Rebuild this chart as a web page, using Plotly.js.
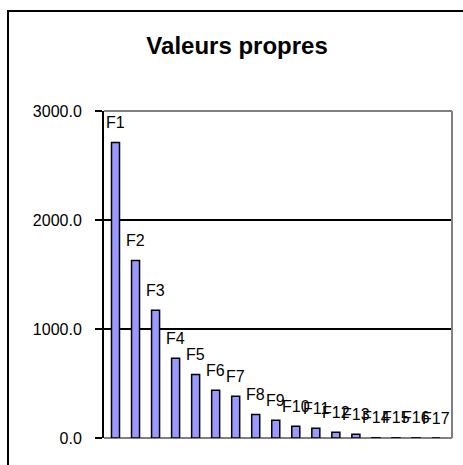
<!DOCTYPE html>
<html>
<head>
<meta charset="utf-8">
<script src="https://cdn.plot.ly/plotly-3.0.1.min.js"></script>
<style>
  html, body { margin: 0; padding: 0; background: #ffffff; }
  #wrap { position: relative; width: 463px; height: 465px; overflow: hidden; }
  #chart { position: absolute; left: 0; top: 0; width: 463px; height: 465px; }
  #frame { position: absolute; left: 7px; top: 10px; width: 600px; height: 600px;
           border: 2px solid #000; pointer-events: none; }
</style>
</head>
<body>
<div id="wrap">
  <div id="chart"></div>
  <div id="frame"></div>
</div>
<script>
const categories = ["F1","F2","F3","F4","F5","F6","F7","F8","F9","F10","F11","F12","F13","F14","F15","F16","F17"];
const eigenvalues = [2712, 1628, 1172, 732, 583, 439, 384, 216, 163, 108, 90, 53, 35, 2, 1, 1, 0];
const yTickValues = [0, 1000, 2000, 3000];
const yTickLabels = ["0.0", "1000.0", "2000.0", "3000.0"];
const chartTitle = "Valeurs propres";

const font = "Liberation Sans, Arial, sans-serif";

const annotations = categories.map((c, i) => ({
  x: c, y: eigenvalues[i], xref: "x", yref: "y",
  text: c, showarrow: false, yshift: 20, xanchor: "center", yanchor: "middle",
  font: { family: font, size: 16, color: "#000" }
}));

const trace = {
  type: "bar",
  x: categories,
  y: eigenvalues,
  marker: { color: "#9999ff", line: { color: "#000", width: 1.5 } },
  hoverinfo: "skip"
};

const layout = {
  width: 463, height: 465,
  margin: { l: 104, r: 11, t: 111, b: 27, pad: 0 },
  paper_bgcolor: "rgba(0,0,0,0)",
  plot_bgcolor: "#ffffff",
  showlegend: false,
  bargap: 0.6,
  title: { text: "<b>" + chartTitle + "</b>", x: 0.512, xanchor: "center", y: 0.903, yanchor: "middle",
           font: { family: font, size: 24, color: "#000" } },
  xaxis: { type: "category", showticklabels: false, ticks: "", showgrid: false,
           zeroline: false, showline: false, fixedrange: true },
  yaxis: { range: [0, 3000], tickvals: yTickValues, ticktext: yTickLabels,
           ticks: "outside", ticklen: 7, tickwidth: 2, tickcolor: "#000",
           showline: true, linecolor: "#000", linewidth: 2,
           showgrid: true, gridcolor: "#000", gridwidth: 1.5, zeroline: false,
           tickfont: { family: font, size: 16, color: "#000" }, ticklabelstandoff: 10 },
  shapes: [
    { type: "line", xref: "paper", yref: "paper", x0: 0, x1: 1, y0: 1, y1: 1, line: { color: "#808080", width: 2 }, layer: "above" },
    { type: "line", xref: "paper", yref: "paper", x0: 1, x1: 1, y0: 0, y1: 1, line: { color: "#808080", width: 2 }, layer: "above" },
    { type: "line", xref: "paper", yref: "paper", x0: 0, x1: 1, y0: 0, y1: 0, line: { color: "#808080", width: 2 }, layer: "below" }
  ],
  annotations: annotations
};

Plotly.newPlot("chart", [trace], layout, { displayModeBar: false, staticPlot: true });
</script>
</body>
</html>
